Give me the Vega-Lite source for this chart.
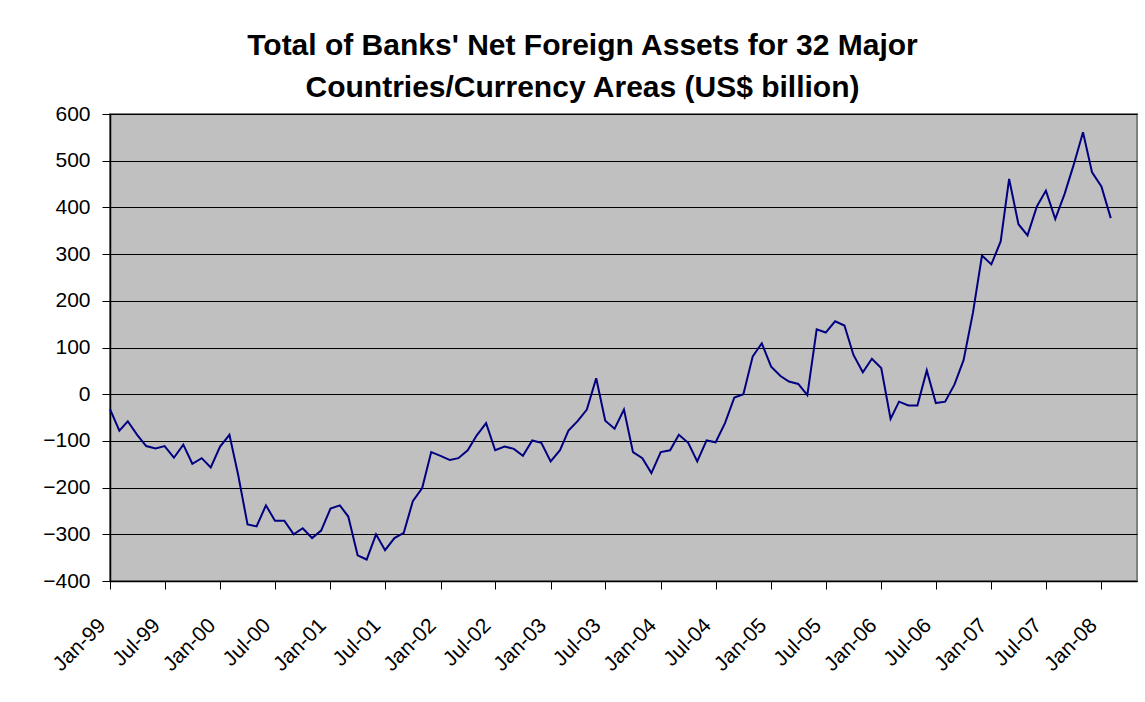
{
  "$schema": "https://vega.github.io/schema/vega-lite/v6.json",
  "width": 1027,
  "height": 467,
  "autosize": {"type": "none"},
  "padding": {"left": 110, "top": 114, "right": 8, "bottom": 121},
  "background": "white",
  "config": {
    "view": {"fill": "#C0C0C0", "stroke": "#808080", "strokeWidth": 2},
    "font": "Liberation Sans"
  },
  "title": {
    "text": ["Total of Banks' Net Foreign Assets for 32 Major", "Countries/Currency Areas (US$ billion)"],
    "font": "Liberation Sans",
    "fontSize": 30,
    "fontWeight": "bold",
    "color": "black",
    "anchor": "middle",
    "frame": "group",
    "dx": -41,
    "dy": 36,
    "baseline": "alphabetic",
    "lineHeight": 42,
    "offset": 12
  },
  "data": {
    "values": [
      {"date": "1999-01-01", "value": -32}, {"date": "1999-02-01", "value": -78}, {"date": "1999-03-01", "value": -58}, {"date": "1999-04-01", "value": -87},
      {"date": "1999-05-01", "value": -111}, {"date": "1999-06-01", "value": -116}, {"date": "1999-07-01", "value": -111}, {"date": "1999-08-01", "value": -136},
      {"date": "1999-09-01", "value": -108}, {"date": "1999-10-01", "value": -149}, {"date": "1999-11-01", "value": -137}, {"date": "1999-12-01", "value": -157},
      {"date": "2000-01-01", "value": -112}, {"date": "2000-02-01", "value": -87}, {"date": "2000-03-01", "value": -173}, {"date": "2000-04-01", "value": -279},
      {"date": "2000-05-01", "value": -283}, {"date": "2000-06-01", "value": -238}, {"date": "2000-07-01", "value": -271}, {"date": "2000-08-01", "value": -271},
      {"date": "2000-09-01", "value": -300}, {"date": "2000-10-01", "value": -287}, {"date": "2000-11-01", "value": -308}, {"date": "2000-12-01", "value": -292},
      {"date": "2001-01-01", "value": -245}, {"date": "2001-02-01", "value": -238}, {"date": "2001-03-01", "value": -262}, {"date": "2001-04-01", "value": -345},
      {"date": "2001-05-01", "value": -354}, {"date": "2001-06-01", "value": -300}, {"date": "2001-07-01", "value": -334}, {"date": "2001-08-01", "value": -308},
      {"date": "2001-09-01", "value": -297}, {"date": "2001-10-01", "value": -229}, {"date": "2001-11-01", "value": -201}, {"date": "2001-12-01", "value": -124},
      {"date": "2002-01-01", "value": -132}, {"date": "2002-02-01", "value": -141}, {"date": "2002-03-01", "value": -137}, {"date": "2002-04-01", "value": -120},
      {"date": "2002-05-01", "value": -88}, {"date": "2002-06-01", "value": -62}, {"date": "2002-07-01", "value": -120}, {"date": "2002-08-01", "value": -112},
      {"date": "2002-09-01", "value": -117}, {"date": "2002-10-01", "value": -132}, {"date": "2002-11-01", "value": -99}, {"date": "2002-12-01", "value": -104},
      {"date": "2003-01-01", "value": -144}, {"date": "2003-02-01", "value": -120}, {"date": "2003-03-01", "value": -78}, {"date": "2003-04-01", "value": -57},
      {"date": "2003-05-01", "value": -33}, {"date": "2003-06-01", "value": 34}, {"date": "2003-07-01", "value": -57}, {"date": "2003-08-01", "value": -74},
      {"date": "2003-09-01", "value": -33}, {"date": "2003-10-01", "value": -124}, {"date": "2003-11-01", "value": -137}, {"date": "2003-12-01", "value": -169},
      {"date": "2004-01-01", "value": -124}, {"date": "2004-02-01", "value": -120}, {"date": "2004-03-01", "value": -87}, {"date": "2004-04-01", "value": -104},
      {"date": "2004-05-01", "value": -144}, {"date": "2004-06-01", "value": -99}, {"date": "2004-07-01", "value": -103}, {"date": "2004-08-01", "value": -62},
      {"date": "2004-09-01", "value": -7}, {"date": "2004-10-01", "value": 0}, {"date": "2004-11-01", "value": 81}, {"date": "2004-12-01", "value": 109},
      {"date": "2005-01-01", "value": 59}, {"date": "2005-02-01", "value": 39}, {"date": "2005-03-01", "value": 27}, {"date": "2005-04-01", "value": 22},
      {"date": "2005-05-01", "value": -2}, {"date": "2005-06-01", "value": 139}, {"date": "2005-07-01", "value": 132}, {"date": "2005-08-01", "value": 156},
      {"date": "2005-09-01", "value": 147}, {"date": "2005-10-01", "value": 84}, {"date": "2005-11-01", "value": 47}, {"date": "2005-12-01", "value": 76},
      {"date": "2006-01-01", "value": 56}, {"date": "2006-02-01", "value": -53}, {"date": "2006-03-01", "value": -16}, {"date": "2006-04-01", "value": -24},
      {"date": "2006-05-01", "value": -24}, {"date": "2006-06-01", "value": 51}, {"date": "2006-07-01", "value": -19}, {"date": "2006-08-01", "value": -16},
      {"date": "2006-09-01", "value": 21}, {"date": "2006-10-01", "value": 73}, {"date": "2006-11-01", "value": 174}, {"date": "2006-12-01", "value": 297},
      {"date": "2007-01-01", "value": 278}, {"date": "2007-02-01", "value": 327}, {"date": "2007-03-01", "value": 461}, {"date": "2007-04-01", "value": 364},
      {"date": "2007-05-01", "value": 340}, {"date": "2007-06-01", "value": 402}, {"date": "2007-07-01", "value": 436}, {"date": "2007-08-01", "value": 375},
      {"date": "2007-09-01", "value": 429}, {"date": "2007-10-01", "value": 491}, {"date": "2007-11-01", "value": 561}, {"date": "2007-12-01", "value": 475},
      {"date": "2008-01-01", "value": 445}, {"date": "2008-02-01", "value": 377}
    ]
  },
  "mark": {"type": "line", "color": "#000080", "strokeWidth": 2},
  "encoding": {
    "x": {
      "field": "date",
      "type": "temporal",
      "scale": {
        "type": "utc",
        "domain": [
          {"year": 1999, "month": 1, "date": 1, "utc": true},
          {"year": 2008, "month": 4, "date": 28, "utc": true}
        ]
      },
      "axis": {
        "title": null,
        "labelExpr": "utcFormat(datum.value, '%b-%y')",
        "values": [
          {"year": 1999, "month": 1, "date": 1, "utc": true}, {"year": 1999, "month": 7, "date": 1, "utc": true},
          {"year": 2000, "month": 1, "date": 1, "utc": true}, {"year": 2000, "month": 7, "date": 1, "utc": true},
          {"year": 2001, "month": 1, "date": 1, "utc": true}, {"year": 2001, "month": 7, "date": 1, "utc": true},
          {"year": 2002, "month": 1, "date": 1, "utc": true}, {"year": 2002, "month": 7, "date": 1, "utc": true},
          {"year": 2003, "month": 1, "date": 1, "utc": true}, {"year": 2003, "month": 7, "date": 1, "utc": true},
          {"year": 2004, "month": 1, "date": 1, "utc": true}, {"year": 2004, "month": 7, "date": 1, "utc": true},
          {"year": 2005, "month": 1, "date": 1, "utc": true}, {"year": 2005, "month": 7, "date": 1, "utc": true},
          {"year": 2006, "month": 1, "date": 1, "utc": true}, {"year": 2006, "month": 7, "date": 1, "utc": true},
          {"year": 2007, "month": 1, "date": 1, "utc": true}, {"year": 2007, "month": 7, "date": 1, "utc": true},
          {"year": 2008, "month": 1, "date": 1, "utc": true}
        ],
        "labelAngle": -45,
        "labelAlign": "right",
        "labelBaseline": "middle",
        "labelFont": "Liberation Sans",
        "labelFontSize": 21,
        "labelColor": "black",
        "labelPadding": 33,
        "labelOffset": -8,
        "labelOverlap": false,
        "labelFlush": false,
        "tickSize": 8,
        "tickColor": "black",
        "domainColor": "black",
        "domainWidth": 1.5,
        "grid": false
      }
    },
    "y": {
      "field": "value",
      "type": "quantitative",
      "scale": {"domain": [-400, 600], "nice": false, "zero": false},
      "axis": {
        "title": null,
        "values": [-400, -300, -200, -100, 0, 100, 200, 300, 400, 500, 600],
        "labelFont": "Liberation Sans",
        "labelFontSize": 21,
        "labelColor": "black",
        "labelPadding": 12,
        "tickSize": 8,
        "tickColor": "black",
        "domainColor": "black",
        "domainWidth": 1.5,
        "grid": true,
        "gridColor": "black",
        "gridWidth": 1,
        "gridOpacity": 1
      }
    }
  }
}
